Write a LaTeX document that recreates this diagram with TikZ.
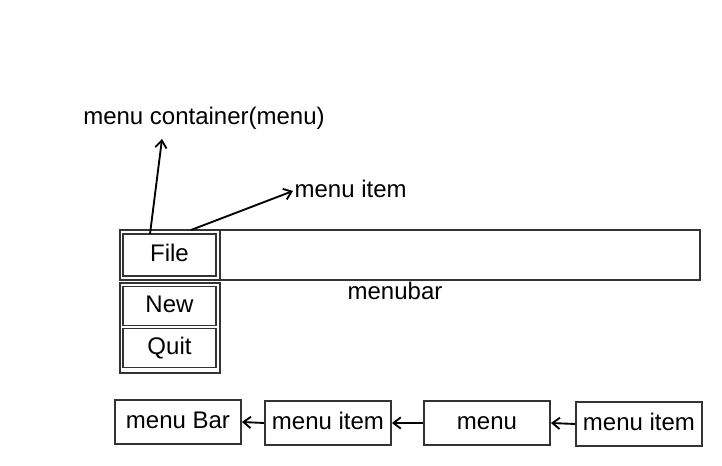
\documentclass[tikz,border=0pt]{standalone}
\usepackage{fontspec}
\setmainfont{Liberation Sans}
\usetikzlibrary{arrows.meta}
\definecolor{edge}{RGB}{51,51,51}
\tikzset{
  box/.style={draw=edge, line width=1.4pt, inner sep=0pt, text height=13pt, text depth=3.6pt},
  lbl/.style={inner sep=1pt, text height=13pt, text depth=3.6pt},
  arr/.style={-{Straight Barb[length=5.5pt,width=8.5pt]}, line width=1.4pt}
}
\begin{document}
\begin{tikzpicture}[x=0.75pt,y=-0.75pt,font=\fontsize{18}{21}\selectfont]
            \useasboundingbox (0,0) rectangle (722,466);
            % the menu bar with its double boxes
            \node[box, minimum width=435pt, minimum height=37.5pt] (bar) at (410,255) {};
            \node[box, minimum width=75pt, minimum height=37.5pt] (fileouter) at (170,255) {};
            \node[box, minimum width=69.75pt, minimum height=31.5pt] (file) at (169.5,255) {File};
            \node[box, minimum width=75pt, minimum height=67.5pt] (menuouter) at (170,328) {};
            \node[box, minimum width=69.75pt, minimum height=29.25pt] (new) at (169.5,306) {New};
            \node[box, minimum width=69.75pt, minimum height=29.25pt] (quit) at (169.5,348) {Quit};
            \node[lbl] (barlabel) at (395,293) {menubar};

            % labels with arrows
            \node[lbl] (container) at (204,118) {menu container(menu)};
            \node[lbl, anchor=west] (itemlabel) at (293,191) {menu item};
            \coordinate (cfoot) at (150,234);
            \coordinate (ctip) at (162,139);
            \coordinate (ifoot) at (191,230);
            \draw[arr] (cfoot) to (ctip);
            \draw[arr] (ifoot) to (itemlabel.west);

            % the chain at the bottom
            \node[box, minimum width=94.5pt, minimum height=33pt] (mbar) at (178,422) {menu Bar};
            \node[box, minimum width=94.5pt, minimum height=33pt] (mitem) at (328,423) {menu item};
            \node[box, minimum width=94.5pt, minimum height=33pt] (mmenu) at (487,423) {menu};
            \node[box, minimum width=94.5pt, minimum height=33pt] (mitemb) at (639,424) {menu item};
            \draw[arr] (mitem.west) to (mbar.east);
            \draw[arr] (mmenu.west) to (mitem.east);
            \draw[arr] (mitemb.west) to (mmenu.east);
        \end{tikzpicture}
\end{document}
